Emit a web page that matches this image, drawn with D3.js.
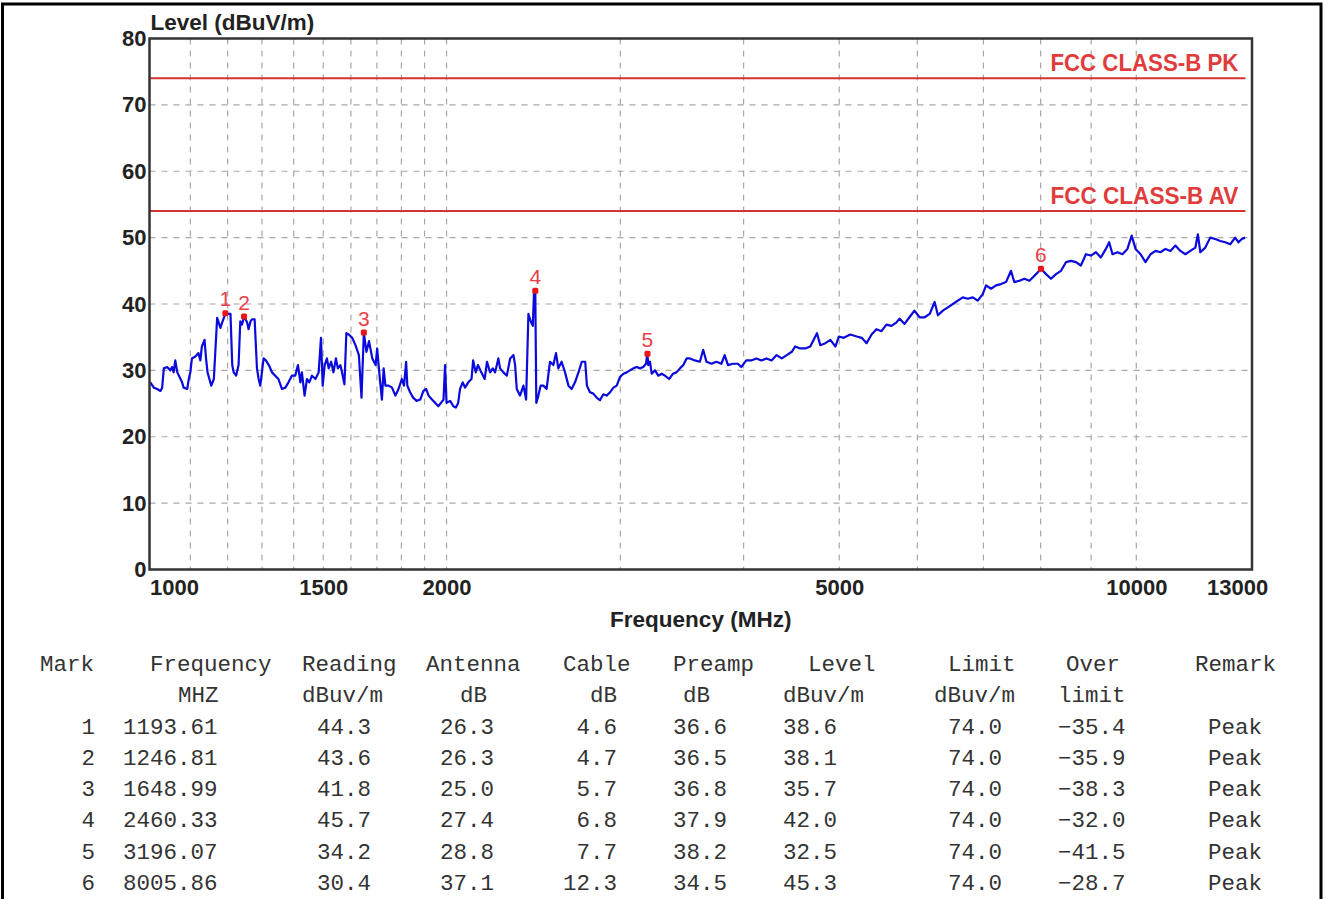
<!DOCTYPE html>
<html>
<head>
<meta charset="utf-8">
<script src="https://cdn.jsdelivr.net/npm/d3@7"></script>
<style>
  body { margin: 0; background: #fff; }
  svg { display: block; }
</style>
</head>
<body>
<svg id="chart" width="1330" height="899"></svg>
<script>
// trace (MHz / dBuV/m)
const traceFreq = [
  1002, 1010, 1018, 1026, 1030, 1034, 1042, 1050, 1054, 1058, 1062, 1067, 1071, 1075, 1079, 1083, 1092, 1096,
  1100, 1104, 1113, 1121, 1126, 1130, 1137, 1141, 1145, 1150, 1155, 1162, 1166, 1171, 1180, 1186, 1194, 1201,
  1208, 1213, 1217, 1224, 1231, 1236, 1241, 1247, 1256, 1260, 1266, 1270, 1278, 1285, 1290, 1295, 1305, 1312,
  1321, 1331, 1341, 1351, 1362, 1373, 1383, 1394, 1405, 1414, 1422, 1427, 1436, 1444, 1452, 1461, 1473, 1484,
  1492, 1498, 1505, 1513, 1519, 1528, 1536, 1545, 1552, 1561, 1567, 1576, 1583, 1592, 1605, 1617, 1630, 1640,
  1649, 1659, 1669, 1682, 1695, 1701, 1708, 1713, 1720, 1727, 1734, 1747, 1761, 1775, 1788, 1802, 1811, 1820,
  1825, 1837, 1850, 1865, 1881, 1895, 1907, 1918, 1933, 1948, 1962, 1974, 1986, 1993, 2000, 2017, 2032, 2044,
  2055, 2064, 2077, 2088, 2104, 2120, 2128, 2141, 2152, 2169, 2186, 2198, 2214, 2228, 2240, 2257, 2266, 2284,
  2302, 2320, 2338, 2347, 2356, 2374, 2393, 2408, 2421, 2434, 2446, 2453, 2460, 2466, 2478, 2491, 2507, 2526,
  2546, 2566, 2582, 2596, 2616, 2637, 2658, 2678, 2699, 2721, 2742, 2764, 2775, 2795, 2817, 2839, 2861, 2883,
  2906, 2929, 2952, 2975, 2998, 3022, 3045, 3068, 3092, 3117, 3141, 3165, 3185, 3196, 3202, 3215, 3228, 3253,
  3278, 3304, 3329, 3362, 3393, 3420, 3448, 3475, 3502, 3529, 3570, 3612, 3640, 3668, 3711, 3754, 3798, 3827,
  3857, 3902, 3947, 3978, 4025, 4072, 4121, 4170, 4220, 4270, 4320, 4372, 4424, 4476, 4511, 4564, 4618, 4673,
  4747, 4784, 4841, 4898, 4956, 4995, 5053, 5131, 5209, 5270, 5330, 5392, 5454, 5518, 5582, 5647, 5712, 5756,
  5823, 5890, 5959, 6031, 6103, 6175, 6247, 6295, 6368, 6442, 6518, 6594, 6671, 6749, 6828, 6908, 6989, 7043,
  7125, 7209, 7293, 7379, 7465, 7524, 7613, 7702, 7792, 7853, 7914, 8006, 8101, 8196, 8292, 8389, 8487, 8586,
  8687, 8788, 8891, 8995, 9101, 9207, 9315, 9387, 9460, 9570, 9682, 9795, 9893, 9983, 10100, 10218, 10338, 10459,
  10581, 10705, 10830, 10956, 11084, 11214, 11345, 11478, 11546, 11612, 11747, 11885, 12024, 12165, 12307, 12451,
  12596, 12693, 12792, 12891
];
const traceLevel = [
  28.2, 27.4, 27.2, 26.9, 27.4, 30.3, 30.5, 30.0, 30.5, 29.7, 31.5, 29.7, 29.2, 28.7, 28.2, 27.4, 27.2, 28.7,
  29.7, 31.8, 32.1, 32.6, 31.5, 33.6, 34.6, 31.8, 29.7, 28.7, 27.7, 28.7, 32.8, 37.9, 36.4, 37.4, 38.6, 38.5,
  38.5, 30.8, 29.7, 29.2, 30.8, 37.4, 36.9, 38.1, 37.2, 36.2, 37.4, 37.7, 37.7, 30.3, 28.7, 27.7, 31.8, 31.5,
  30.8, 29.7, 29.2, 28.7, 27.2, 27.4, 28.2, 29.2, 29.2, 30.8, 28.2, 29.7, 26.2, 28.7, 28.2, 29.2, 28.7, 29.7,
  34.9, 27.7, 30.8, 31.8, 30.3, 31.3, 29.7, 31.8, 30.3, 30.8, 29.7, 27.9, 35.6, 35.4, 34.9, 33.8, 32.3, 25.9,
  35.7, 32.8, 34.4, 31.8, 30.8, 33.3, 30.3, 28.2, 25.6, 30.3, 27.7, 27.7, 27.4, 26.2, 27.2, 28.7, 27.7, 31.3,
  27.7, 26.7, 25.9, 25.4, 25.6, 26.9, 27.2, 26.2, 25.6, 25.1, 24.6, 25.1, 25.6, 30.8, 25.1, 25.4, 24.6, 24.4,
  25.1, 27.2, 28.2, 27.4, 28.2, 28.7, 31.5, 29.7, 30.8, 29.7, 28.7, 31.3, 29.7, 30.3, 29.7, 31.8, 30.3, 29.7,
  29.2, 31.8, 32.3, 30.8, 27.2, 26.2, 27.7, 25.6, 38.5, 37.4, 36.7, 42.0, 42.0, 25.1, 26.2, 27.7, 27.7, 27.2,
  31.3, 30.8, 32.6, 30.3, 31.3, 29.7, 27.7, 27.2, 28.2, 29.7, 31.3, 31.3, 27.7, 26.7, 26.5, 25.9, 25.5, 26.4,
  26.2, 26.7, 27.4, 27.7, 29.0, 29.5, 29.7, 30.0, 30.3, 30.5, 30.3, 30.5, 31.0, 32.5, 30.8, 31.3, 29.5, 30.0,
  29.2, 29.5, 29.2, 28.7, 29.5, 29.7, 30.3, 30.8, 31.8, 31.8, 31.5, 31.3, 33.1, 31.3, 31.0, 31.3, 31.0, 32.3,
  30.8, 31.0, 31.0, 30.5, 31.5, 31.5, 31.8, 31.5, 31.8, 31.5, 32.3, 31.8, 32.3, 32.8, 33.6, 33.3, 33.3, 33.6,
  35.6, 33.8, 34.1, 34.6, 33.6, 35.1, 34.9, 35.4, 35.1, 34.9, 34.1, 35.4, 36.2, 35.9, 36.9, 36.7, 37.2, 37.8,
  37.0, 38.0, 39.0, 38.0, 38.0, 38.5, 40.3, 38.3, 39.0, 39.5, 40.0, 40.5, 41.0, 40.8, 41.0, 40.5, 41.5, 42.8,
  42.3, 42.8, 43.0, 43.3, 45.0, 43.3, 43.5, 43.8, 43.5, 44.0, 44.5, 45.3, 44.5, 43.8, 44.5, 45.0, 46.3, 46.5,
  46.3, 45.8, 47.5, 47.3, 47.8, 47.0, 48.3, 49.3, 47.5, 47.8, 47.5, 48.3, 50.3, 48.3, 47.5, 46.3, 47.5, 48.0,
  47.8, 48.3, 48.0, 48.8, 48.0, 47.5, 48.0, 48.5, 50.5, 47.8, 48.5, 50.0, 49.8, 49.5, 49.3, 49.0,
  50.0, 49.3, 49.8, 50.0
];

// limit lines
const limitNames = ["FCC CLASS-B PK", "FCC CLASS-B AV"];
const limitLevels = [74, 54];
const limitSpan = [1000, 12900];

// axis ticks
const xTickValues = [1000, 1500, 2000, 5000, 10000, 13000];
const xGridValues = [1100, 1200, 1300, 1400, 1500, 1600, 1700, 1800, 1900, 2000,
  3000, 4000, 5000, 6000, 7000, 8000, 9000, 10000];
const yTickValues = [0, 10, 20, 30, 40, 50, 60, 70, 80];

// marker table
const markNo = ["1", "2", "3", "4", "5", "6"];
const markFreq = [1193.61, 1246.81, 1648.99, 2460.33, 3196.07, 8005.86];
const reading = [44.3, 43.6, 41.8, 45.7, 34.2, 30.4];
const antenna = [26.3, 26.3, 25.0, 27.4, 28.8, 37.1];
const cable = [4.6, 4.7, 5.7, 6.8, 7.7, 12.3];
const preamp = [36.6, 36.5, 36.8, 37.9, 38.2, 34.5];
const markLevel = [38.6, 38.1, 35.7, 42.0, 32.5, 45.3];
const limitCol = [74.0, 74.0, 74.0, 74.0, 74.0, 74.0];
const overLimit = [-35.4, -35.9, -38.3, -32.0, -41.5, -28.7];
const remark = ["Peak", "Peak", "Peak", "Peak", "Peak", "Peak"];

const svg = d3.select("#chart");
const plotL = 149.5, plotR = 1252, plotT = 38.5, plotB = 569.5;

const x = d3.scaleLog().domain([1000, 13100]).range([plotL, plotR]);
const y = d3.scaleLinear().domain([0, 80]).range([plotB, plotT]);

const sans = "'Liberation Sans', Arial, sans-serif";
const mono = "'Liberation Mono', 'Courier New', monospace";

// outer frame
svg.append("rect")
  .attr("x", 2.5).attr("y", 4)
  .attr("width", 1318.5).attr("height", 1000)
  .attr("fill", "none").attr("stroke", "#000").attr("stroke-width", 3);

// grid
const grid = svg.append("g");
grid.selectAll("line.v").data(xGridValues).enter().append("line")
  .attr("class", "v")
  .attr("x1", d => x(d)).attr("x2", d => x(d))
  .attr("y1", plotT).attr("y2", plotB);
grid.selectAll("line.h").data(yTickValues.slice(1, -1)).enter().append("line")
  .attr("class", "h")
  .attr("x1", plotL).attr("x2", plotR)
  .attr("y1", d => y(d)).attr("y2", d => y(d));
grid.selectAll("line")
  .attr("stroke", "#a8a8a8").attr("stroke-width", 1.2)
  .attr("stroke-dasharray", "6,6");

// limit lines + labels
limitLevels.forEach(function (lv, i) {
  svg.append("line")
    .attr("x1", x(limitSpan[0])).attr("x2", x(limitSpan[1]))
    .attr("y1", y(lv)).attr("y2", y(lv))
    .attr("stroke", "#d63232").attr("stroke-width", 2);
  svg.append("text")
    .attr("x", x(limitSpan[1]) - 7).attr("y", y(lv) - 7)
    .attr("text-anchor", "end")
    .attr("textLength", 188).attr("lengthAdjust", "spacingAndGlyphs")
    .style("font-family", sans).style("font-size", "23px").style("font-weight", "bold")
    .attr("fill", "#e03c3c")
    .text(limitNames[i]);
});

// trace
const trace = traceFreq.map((f, i) => [f, traceLevel[i]]);
const line = d3.line().x(d => x(d[0])).y(d => y(d[1]));
svg.append("path")
  .datum(trace)
  .attr("d", line)
  .attr("fill", "none")
  .attr("stroke", "#0a0adc")
  .attr("stroke-width", 2.2)
  .attr("stroke-linejoin", "round");

// markers
const marks = svg.append("g").selectAll("g").data(markFreq).enter().append("g");
marks.append("rect")
  .attr("x", d => x(d) - 3).attr("y", (d, i) => y(markLevel[i]) - 3)
  .attr("width", 6).attr("height", 6)
  .attr("rx", 1.5)
  .attr("fill", "#e8161b");
marks.append("text")
  .attr("x", d => x(d)).attr("y", (d, i) => y(markLevel[i]) - 7)
  .attr("text-anchor", "middle")
  .style("font-family", sans).style("font-size", "21px")
  .attr("fill", "#e8404a")
  .text((d, i) => markNo[i]);

// plot frame
svg.append("rect")
  .attr("x", plotL).attr("y", plotT)
  .attr("width", plotR - plotL).attr("height", plotB - plotT)
  .attr("fill", "none").attr("stroke", "#333").attr("stroke-width", 2.5);

// axes
const yAxis = svg.append("g")
  .attr("transform", "translate(" + plotL + ",0)")
  .call(d3.axisLeft(y).tickValues(yTickValues).tickSize(0).tickPadding(3));
const xAxis = svg.append("g")
  .attr("transform", "translate(0," + plotB + ")")
  .call(d3.axisBottom(x).tickValues(xTickValues).tickSize(0).tickPadding(10)
    .tickFormat(d3.format("d")));
[xAxis, yAxis].forEach(function (a) {
  a.select(".domain").remove();
  a.selectAll("text")
    .style("font-family", sans).style("font-size", "22px").style("font-weight", "bold")
    .attr("fill", "#222");
});
xAxis.selectAll("text").filter(d => d === 1000).attr("text-anchor", "start");
xAxis.selectAll("text").filter(d => d === 13000).attr("text-anchor", "end").attr("dx", 19);

svg.append("text")
  .attr("x", plotL + 1).attr("y", 30)
  .style("font-family", sans).style("font-size", "22.5px").style("font-weight", "bold")
  .attr("fill", "#222")
  .text("Level (dBuV/m)");
svg.append("text")
  .attr("x", (plotL + plotR) / 2).attr("y", 627)
  .attr("text-anchor", "middle")
  .style("font-family", sans).style("font-size", "22.5px").style("font-weight", "bold")
  .attr("fill", "#222")
  .text("Frequency (MHz)");

// table
const fmt1 = d3.format(".1f");
const columns = [
  { h1: "Mark", h2: "", hx: 40, vals: markNo, vx: 95, anchor: "end" },
  { h1: "Frequency", h2: "MHZ", hx: 150, h2x: 178, vals: markFreq.map(d3.format(".2f")), vx: 123, anchor: "start" },
  { h1: "Reading", h2: "dBuv/m", hx: 302, h2x: 302, vals: reading.map(fmt1), vx: 317, anchor: "start" },
  { h1: "Antenna", h2: "dB", hx: 426, h2x: 460, vals: antenna.map(fmt1), vx: 440, anchor: "start" },
  { h1: "Cable", h2: "dB", hx: 563, h2x: 590, vals: cable.map(fmt1), vx: 617, anchor: "end" },
  { h1: "Preamp", h2: "dB", hx: 673, h2x: 683, vals: preamp.map(fmt1), vx: 673, anchor: "start" },
  { h1: "Level", h2: "dBuv/m", hx: 808, h2x: 783, vals: markLevel.map(fmt1), vx: 783, anchor: "start" },
  { h1: "Limit", h2: "dBuv/m", hx: 948, h2x: 934, vals: limitCol.map(fmt1), vx: 948, anchor: "start" },
  { h1: "Over", h2: "limit", hx: 1066, h2x: 1058, vals: overLimit.map(fmt1), vx: 1058, anchor: "start" },
  { h1: "Remark", h2: "", hx: 1195, h2x: 1195, vals: remark, vx: 1208, anchor: "start" }
];
const rowY = [671, 702, 734, 765, 796, 827, 859, 890];

const table = svg.append("g")
  .style("font-family", mono).style("font-size", "22.5px")
  .attr("fill", "#333");
columns.forEach(function (c) {
  table.append("text").attr("x", c.hx).attr("y", rowY[0]).text(c.h1);
  if (c.h2) table.append("text").attr("x", c.h2x).attr("y", rowY[1]).text(c.h2);
  table.selectAll(null).data(c.vals).enter().append("text")
    .attr("x", c.vx).attr("y", (d, i) => rowY[i + 2])
    .attr("text-anchor", c.anchor)
    .text(d => d);
});
</script>
</body>
</html>
